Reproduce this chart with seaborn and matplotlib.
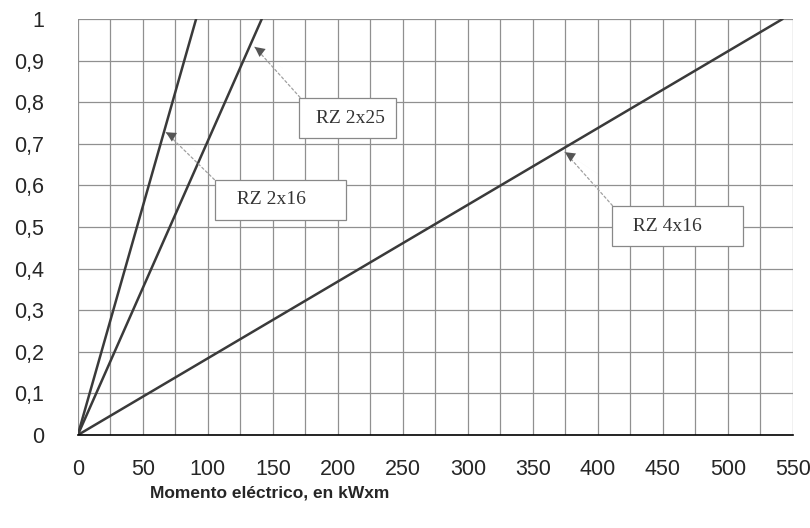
import matplotlib
matplotlib.use('Agg')
import matplotlib.pyplot as plt
from matplotlib.ticker import MultipleLocator, FuncFormatter
import seaborn as sns
import pandas as pd

# Cable lines (all start at origin, reach 1 at the given moment)
cables = ['RZ 2x16', 'RZ 2x25', 'RZ 4x16']
moment_start = [0, 0, 0]
moment_end = [91, 141.5, 542]
drop_start = [0, 0, 0]
drop_end = [1, 1, 1]

x_ticks = list(range(0, 551, 50))
y_ticks = [0, 0.1, 0.2, 0.3, 0.4, 0.5, 0.6, 0.7, 0.8, 0.9, 1]

rows = []
for name, x0, x1, y0, y1 in zip(cables, moment_start, moment_end, drop_start, drop_end):
    rows.append({'cable': name, 'x': x0, 'y': y0})
    rows.append({'cable': name, 'x': x1, 'y': y1})
df = pd.DataFrame(rows)

sns.set_style('white')
plt.rcParams['font.family'] = ['Liberation Sans', 'DejaVu Sans']

fig = plt.figure(figsize=(8.1, 5.28), dpi=100)
ax = fig.add_axes([0.096, 0.176, 0.883, 0.788])

sns.lineplot(data=df, x='x', y='y', units='cable', estimator=None,
             color='#3a3a3a', linewidth=1.8, ax=ax, legend=False)

ax.set_xlim(0, 550)
ax.set_ylim(0, 1)
ax.set_xticks(x_ticks)
ax.xaxis.set_minor_locator(MultipleLocator(25))
ax.set_yticks(y_ticks)

def comma_fmt(v, pos):
    if abs(v - round(v)) < 1e-9:
        return str(int(round(v)))
    return f'{v:.1f}'.replace('.', ',')

ax.yaxis.set_major_formatter(FuncFormatter(comma_fmt))
ax.grid(True, which='both', color='#909090', linewidth=0.9)
ax.set_axisbelow(True)

for s in ['top', 'right', 'left']:
    ax.spines[s].set_visible(False)
ax.spines['bottom'].set_color('black')
ax.spines['bottom'].set_linewidth(1.2)

ax.tick_params(axis='x', which='major', direction='inout', length=18, width=1,
               labelsize=15.5, pad=8, color='black')
ax.tick_params(axis='x', which='minor', direction='in', length=11, width=1, color='black')
ax.tick_params(axis='y', length=0, labelsize=15.5, pad=24)
ax.set_xlabel('')
ax.set_ylabel('')

# labels with arrows: (text, arrow tip, box centre)
labels = [
    (' RZ 2x25', (136, 0.933), (207.7, 0.762)),
    ('  RZ 2x16      ', (67.7, 0.728), (156, 0.565)),
    ('  RZ 4x16      ', (374.6, 0.68), (461, 0.502)),
]
for text, tip, pos in labels:
    ax.annotate(text, xy=tip, xytext=pos, ha='center', va='center',
                fontsize=14, family='Liberation Serif', color='#333333',
                bbox=dict(boxstyle='square,pad=0.6', fc='white', ec='#888888', lw=0.9),
                arrowprops=dict(arrowstyle='-', color='#a0a0a0', lw=0.9,
                                linestyle=(0, (2, 2)), relpos=(0, 1),
                                shrinkA=0, shrinkB=0))
    # solid arrowhead near the tip
    ax.annotate('', xy=tip, xytext=(tip[0] + (pos[0] - tip[0]) * 0.3,
                                    tip[1] + (pos[1] - tip[1]) * 0.3),
                arrowprops=dict(arrowstyle='-|>', color='#555555', lw=0.01,
                                mutation_scale=18, shrinkA=0, shrinkB=0))

fig.text(0.333, 0.066, 'Momento eléctrico, en kWxm', ha='center', va='center',
         fontsize=12.5, fontweight='bold')

fig.savefig('out.png', dpi=100)
